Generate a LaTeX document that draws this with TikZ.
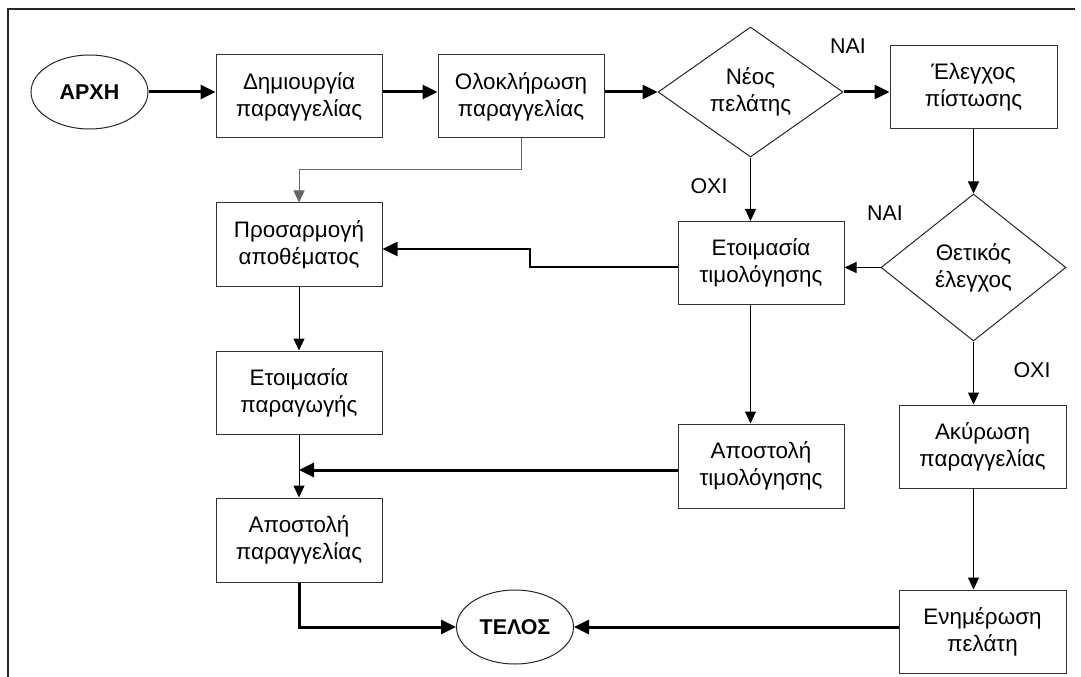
\documentclass[tikz,border=0pt]{standalone}
\usepackage{fontspec}
\setmainfont{Liberation Sans}
\usetikzlibrary{arrows.meta,shapes.geometric}
\begin{document}
\begin{tikzpicture}[x=1bp,y=-1bp,
  every node/.style={font=\fontsize{22.5}{27}\selectfont, align=center, inner sep=0pt},
  proc/.style={draw=black!80, line width=1bp, minimum width=166bp, minimum height=83bp},
  decision/.style={draw=black!85, line width=1bp, diamond, minimum width=185bp},
  terminal/.style={draw=black!85, line width=1bp, ellipse, minimum width=117bp, minimum height=74bp,
    font=\fontsize{21.5}{26}\selectfont\bfseries},
  lbl/.style={font=\fontsize{21.5}{24}\selectfont},
  thickflow/.style={line width=3bp, -{Triangle[length=15bp,width=14bp]}},
  thinflow/.style={line width=1bp, -{Triangle[length=12bp,width=11bp]}},
]
\useasboundingbox (0,0) rectangle (1081,677);
% open frame: top and left edges only
\draw[line width=1.5bp, black!85] (8,680) -- (8,9) -- (1075,9);

% terminals
\node[terminal] (arxi) at (89.5,92) {ΑΡΧΗ};
\node[terminal] (telos) at (515,627) {ΤΕΛΟΣ};

% process steps
\node[proc] (dim) at (299,96.5) {Δημιουργία\\παραγγελίας};
\node[proc] (olo) at (521,96.5) {Ολοκλήρωση\\παραγγελίας};
\node[proc, minimum width=167bp] (eleg) at (973.5,87.5) {Έλεγχος\\πίστωσης};
\node[proc] (pros) at (299,244.5) {Προσαρμογή\\αποθέματος};
\node[proc] (etim) at (761,263) {Ετοιμασία\\τιμολόγησης};
\node[proc] (etpar) at (299,392.5) {Ετοιμασία\\παραγωγής};
\node[proc, minimum height=84bp] (apotim) at (761,466) {Αποστολή\\τιμολόγησης};
\node[proc, minimum height=84bp] (apopar) at (299,540) {Αποστολή\\παραγγελίας};
\node[proc, minimum width=167bp] (akyr) at (982.5,446.5) {Ακύρωση\\παραγγελίας};
\node[proc, minimum width=167bp] (enim) at (982.5,631.5) {Ενημέρωση\\πελάτη};

% decisions
\node[decision, minimum height=130bp] (neos) at (750.5,92) {Νέος\\πελάτης};
\node[decision, minimum height=147bp] (thet) at (973.5,267.5) {Θετικός\\έλεγχος};

% branch labels
\node[lbl] (nai1) at (848,46) {ΝΑΙ};
\node[lbl] (nai2) at (885,213) {ΝΑΙ};
\node[lbl] (oxi1) at (709,186) {ΟΧΙ};
\node[lbl] (oxi2) at (1032,370) {ΟΧΙ};

% bend points
\coordinate (j1) at (299,170);
\coordinate (j2) at (299,470);
\coordinate (k1) at (530,267);
\coordinate (k2) at (530,249);

% main flow
\draw[thickflow] (arxi.east) -- (dim.west |- arxi.east);
\draw[thickflow] (dim.east |- arxi.east) -- (olo.west |- arxi.east);
\draw[thickflow] (olo.east |- neos.west) -- (neos.west);
\draw[thickflow] (neos.east) -- (eleg.west |- neos.east);
\draw[thinflow] (eleg.south) -- (thet.north);
\draw[thinflow] (thet.west) -- (etim.east |- thet.west);
\draw[thinflow] (thet.south) -- (akyr.north -| thet.south);
\draw[thinflow] (akyr.south -| thet.south) -- (enim.north -| thet.south);
\draw[thickflow] (enim.west |- telos.east) -- (telos.east);
\draw[thickflow] (apopar.south) |- (telos.west);
\draw[thinflow] (neos.south) -- (etim.north -| neos.south);
\draw[thinflow] (etim.south -| neos.south) -- (apotim.north -| neos.south);
\draw[thickflow] (apotim.west |- j2) -- (j2);
\draw[thinflow] (etpar.south) -- (apopar.north);
\draw[thinflow] (pros.south) -- (etpar.north);
\draw[thinflow, draw=black!60] (olo.south) |- (j1) -- (pros.north);
\draw[thickflow, line width=2.5bp] (etim.west |- k1) -- (k1) -- (k2) -- (pros.east |- k2);
\end{tikzpicture}
\end{document}
